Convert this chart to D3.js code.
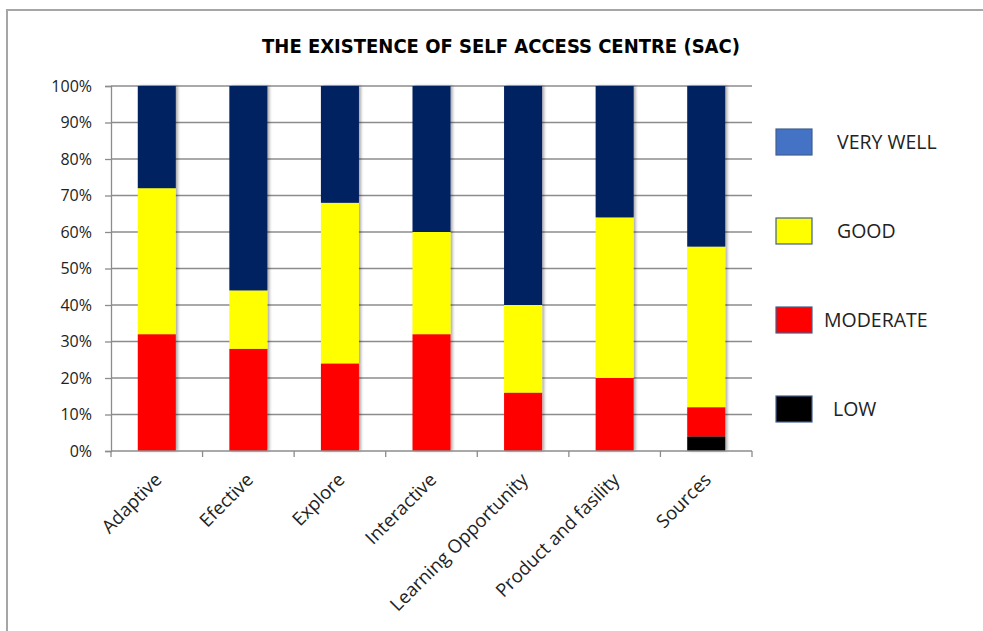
<!DOCTYPE html>
<html><head><meta charset="utf-8">
<script src="https://cdn.jsdelivr.net/npm/d3@7"></script>
<style>body{margin:0;background:#fff}svg{display:block}</style>
</head><body>
<svg id="c" width="983" height="631"></svg>
<script>
const categories = ["Adaptive","Efective","Explore","Interactive","Learning Opportunity","Product and fasility","Sources"];
const low      = [0, 0, 0, 0, 0, 0, 4];
const moderate = [32, 28, 24, 32, 16, 20, 8];
const good     = [40, 16, 44, 28, 24, 44, 44];
const veryWell = [28, 56, 32, 40, 60, 36, 44];
const seriesNames = ["LOW","MODERATE","GOOD","VERY WELL"];
const yTicks = [0,0.1,0.2,0.3,0.4,0.5,0.6,0.7,0.8,0.9,1];

const barColors = {"LOW":"#000000","MODERATE":"#ff0000","GOOD":"#ffff00","VERY WELL":"#002060"};
const legendColors = {"LOW":"#000000","MODERATE":"#ff0000","GOOD":"#ffff00","VERY WELL":"#4472c4"};

const svg = d3.select("#c");
const font = "'Liberation Sans Narrow','DejaVu Sans Condensed',sans-serif";
const lblFont = "'Open Sans',sans-serif";

// frame
svg.append("path").attr("d","M7,631 V10 H983").attr("fill","none").attr("stroke","#a6a6a6").attr("stroke-width",2);

const x = d3.scaleBand().domain(categories).range([111,752]).paddingInner(0.585).paddingOuter(0.2925);
const xTicks = d3.scaleBand().domain(categories).range([111,752]);
const y = d3.scaleLinear().domain([0,1]).range([451,86]);

const table = categories.map((c,i)=>{
  const tot = low[i]+moderate[i]+good[i]+veryWell[i];
  return {cat:c,"LOW":low[i]/tot,"MODERATE":moderate[i]/tot,"GOOD":good[i]/tot,"VERY WELL":veryWell[i]/tot};
});
const stack = d3.stack().keys(seriesNames)(table);

// gridlines
svg.append("g").selectAll("line").data(yTicks.slice(1)).join("line")
  .attr("x1",111).attr("x2",752).attr("y1",d=>y(d)).attr("y2",d=>y(d))
  .attr("stroke","#8c8c8c").attr("stroke-width",1.3);

// shadow filter
const defs = svg.append("defs");
const f = defs.append("filter").attr("id","sh").attr("x","-20%").attr("y","-5%").attr("width","140%").attr("height","110%");
f.append("feGaussianBlur").attr("in","SourceAlpha").attr("stdDeviation",1.5);
f.append("feOffset").attr("dx",1.5).attr("dy",0).attr("result","b");
f.append("feComponentTransfer").append("feFuncA").attr("type","linear").attr("slope",0.35);
const m = f.append("feMerge"); m.append("feMergeNode"); m.append("feMergeNode").attr("in","SourceGraphic");

const bars = svg.append("g").attr("filter","url(#sh)");
bars.selectAll("g").data(stack).join("g").attr("fill",d=>barColors[d.key])
  .selectAll("rect").data(d=>d).join("rect")
  .attr("x",d=>x(d.data.cat)).attr("width",x.bandwidth())
  .attr("y",d=>y(d[1])).attr("height",d=>Math.max(0,y(d[0])-y(d[1])));

// y axis
const ya = svg.append("g").attr("transform","translate(111,0)")
  .call(d3.axisLeft(y).tickValues(yTicks).tickFormat(d3.format(".0%")).tickSize(6).tickPadding(13));
ya.select(".domain").attr("stroke","#8c8c8c").attr("stroke-width",1.3);
ya.selectAll(".tick line").attr("stroke","#8c8c8c").attr("stroke-width",1.3);
ya.selectAll("text").attr("font-family",lblFont).attr("font-size",16).attr("fill","#222");

// x axis
const xa = svg.append("g").attr("transform","translate(0,451)");
xa.append("line").attr("x1",111).attr("x2",752).attr("stroke","#8c8c8c").attr("stroke-width",1.3);
const edges = categories.map(c=>xTicks(c)).concat([752]);
xa.selectAll("line.t").data(edges).join("line").attr("class","t")
  .attr("x1",d=>d).attr("x2",d=>d).attr("y1",0).attr("y2",6)
  .attr("stroke","#8c8c8c").attr("stroke-width",1.3);
xa.selectAll("text").data(categories).join("text")
  .attr("transform",d=>`translate(${x(d)+x.bandwidth()/2+6},30) rotate(-45)`)
  .attr("text-anchor","end").attr("font-family",lblFont).attr("font-size",18.5).attr("fill","#222")
  .text(d=>d);

// title
svg.append("text").attr("x",501).attr("y",53).attr("text-anchor","middle")
  .attr("font-family",font).attr("font-weight","bold").attr("font-size",20).attr("fill","#000")
  .text("THE EXISTENCE OF SELF ACCESS CENTRE (SAC)");

// legend
const legendOrder = ["VERY WELL","GOOD","MODERATE","LOW"];
const lg = svg.append("g").selectAll("g").data(legendOrder).join("g")
  .attr("transform",(d,i)=>`translate(776,${142+i*89})`);
lg.append("rect").attr("x",0).attr("y",-13).attr("width",36).attr("height",26)
  .attr("fill",d=>legendColors[d]).attr("stroke","#41608f").attr("stroke-width",1.2);
lg.append("text").attr("x",d=>d==="MODERATE"?48:(d==="LOW"?57:61)).attr("y",7)
  .attr("font-family",lblFont).attr("font-size",19.5).attr("fill","#222").text(d=>d);
</script>
</body></html>
